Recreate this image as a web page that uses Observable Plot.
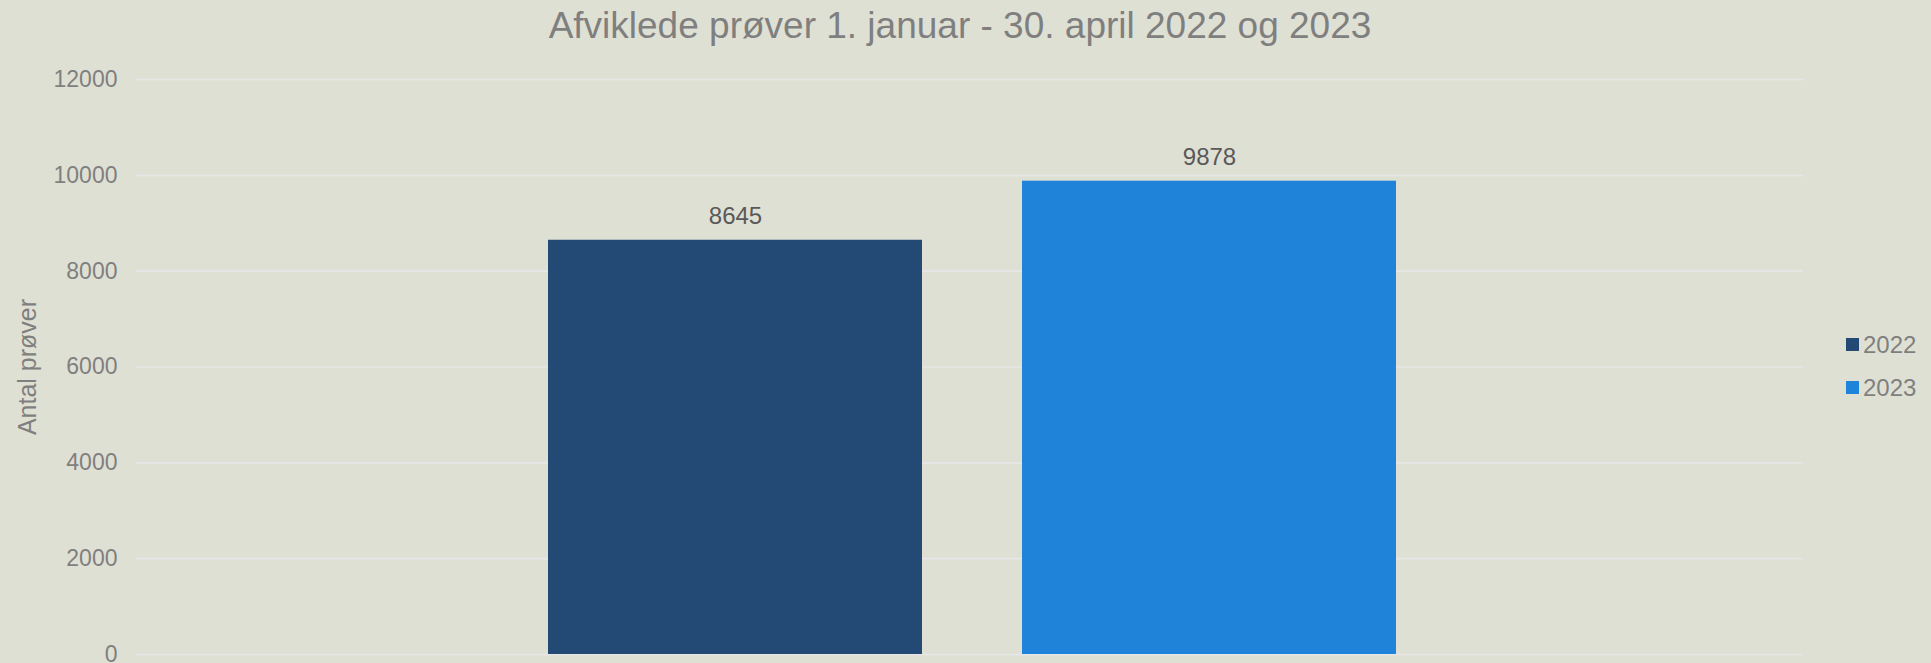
<!DOCTYPE html>
<html>
<head>
<meta charset="utf-8">
<script src="https://cdn.jsdelivr.net/npm/d3@7"></script>
<script src="https://cdn.jsdelivr.net/npm/@observablehq/plot@0.6"></script>
<style>
  html, body { margin: 0; padding: 0; background: #dfe0d4; }
  #wrap { position: relative; width: 1931px; height: 663px; background: #dfe0d4; font-family: "Liberation Sans", Arial, sans-serif; overflow: hidden; }
  #title { height: 50px; width: 1920px; text-align: center; font-size: 37px; line-height: 37px; padding-top: 7px; box-sizing: border-box; color: #7f7f7f; white-space: nowrap; }
  #legend { position: absolute; left: 1846px; top: 323px; }
  #legend > div > div { height: 43px; display: flex; align-items: center; padding: 0 !important; margin: 0 !important; line-height: 43px; }
  #legend svg { margin-right: 4px !important; }
</style>
</head>
<body>
<div id="wrap">
  <div id="title"></div>
  <div id="chart"></div>
  <div id="legend"></div>
</div>
<script>
const titleText = "Afviklede prøver 1. januar - 30. april 2022 og 2023";
const yLabel = "Antal prøver";
const years = ["2022", "2023"];
const values = [8645, 9878];
const colors = ["#234a74", "#1f83da"];
const yTicks = [0, 2000, 4000, 6000, 8000, 10000, 12000];

const data = years.map((year, i) => ({year, value: values[i]}));

document.getElementById("title").textContent = titleText;

const chart = Plot.plot({
  width: 1931,
  height: 613,
  marginTop: 29,
  marginBottom: 9,
  marginLeft: 136,
  marginRight: 128,
  style: {background: "transparent", color: "#7f7f7f", fontFamily: "Liberation Sans, Arial, sans-serif"},
  x: {type: "band", domain: years, range: [547, 1397], paddingInner: 0.2105, paddingOuter: 0, axis: null},
  y: {domain: [0, 12000], axis: null},
  color: {domain: years, range: colors},
  marks: [
    Plot.gridY(yTicks, {stroke: "#e6e6e6", strokeOpacity: 1, strokeWidth: 1.6}),
    Plot.axisY(yTicks, {tickSize: 0, tickPadding: 19, fontSize: 23, fill: "#7f7f7f", label: null, tickFormat: d => String(d)}),
    Plot.text([yLabel], {frameAnchor: "left", textAnchor: "middle", rotate: -90, dx: -109, fontSize: 25, fill: "#7f7f7f"}),
    Plot.barY(data, {x: "year", y: "value", fill: "year"}),
    Plot.text(data, {x: "year", y: "value", text: d => String(d.value), dy: -24, fontSize: 24, fill: "#595959"})
  ]
});
document.getElementById("chart").appendChild(chart);

const legend = Plot.legend({
  color: {domain: years, range: colors},
  swatchSize: 13,
  columns: 1,
  style: {fontSize: "24px", color: "#7f7f7f", fontFamily: "Liberation Sans, Arial, sans-serif", background: "transparent"}
});
document.getElementById("legend").appendChild(legend);
</script>
</body>
</html>
